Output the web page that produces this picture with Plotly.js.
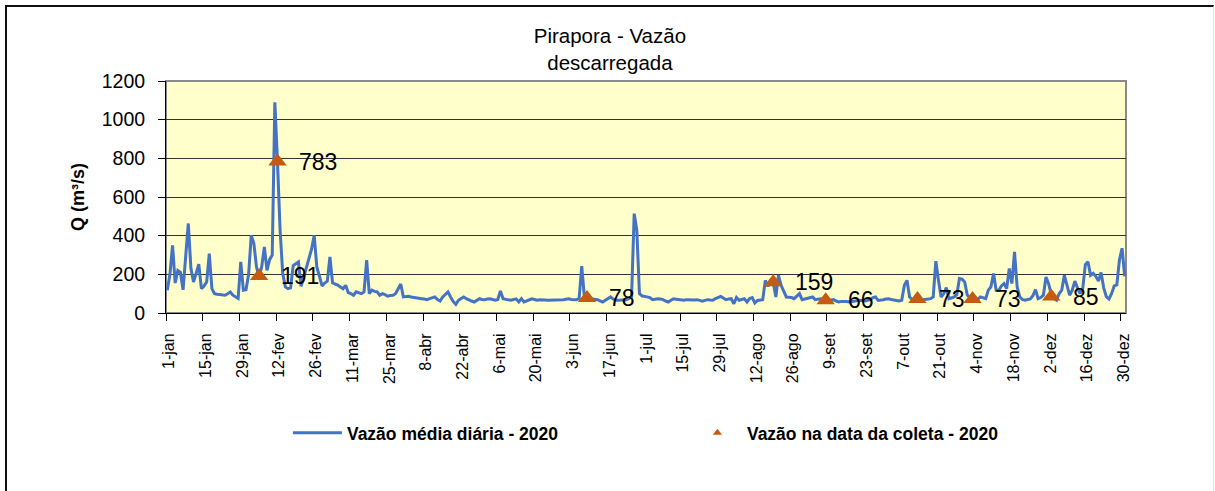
<!DOCTYPE html>
<html>
<head>
<meta charset="utf-8">
<script src="https://cdn.plot.ly/plotly-3.0.1.min.js"></script>
<style>
  html, body { margin: 0; padding: 0; background: #ffffff; }
  #chart { width: 1215px; height: 491px; }
  #frame { position: absolute; left: 5px; top: 5px; width: 1209px; height: 520px;
           box-sizing: border-box; border-left: 2px solid #111; border-top: 2px solid #111;
           border-right: 1px solid #e2e2e2; pointer-events: none; }
</style>
</head>
<body>
<div id="chart"></div>
<div id="frame"></div>
<script>
// ---- Data ----
const startDate = '2020-01-01';
// Vazão média diária - 2020 (m³/s), one value per day from 1-jan to 31-dez
const dailyFlow = [
  118, 200, 350, 155, 220, 210, 120, 290, 463, 230,
  160, 205, 252, 126, 140, 160, 307, 126, 100, 97,
  95, 95, 92, 100, 109, 92, 85, 75, 264, 118,
  120, 200, 402, 359, 238, 185, 240, 342, 221, 276,
  300, 1090, 783, 428, 204, 135, 126, 130, 245, 256,
  264, 138, 187, 240, 290, 330, 402, 238, 190, 140,
  155, 165, 290, 156, 150, 145, 135, 126, 143, 105,
  100, 92, 110, 105, 100, 109, 273, 100, 118, 112,
  109, 92, 100, 95, 87, 90, 92, 100, 126, 150,
  83, 86, 86, 83, 80, 78, 76, 74, 72, 69,
  74, 78, 83, 70, 62, 83, 95, 109, 83, 60,
  45, 66, 75, 83, 74, 66, 62, 57, 66, 74,
  70, 69, 72, 74, 70, 66, 70, 114, 74, 69,
  68, 66, 70, 73, 57, 74, 57, 62, 66, 73,
  70, 66, 68, 69, 67, 66, 66, 66, 67, 66,
  68, 69, 71, 73, 70, 69, 69, 75, 242, 83,
  78, 75, 73, 71, 69, 63, 57, 66, 75, 83,
  72, 66, 66, 66, 67, 69, 75, 83, 514, 428,
  100, 88, 86, 83, 80, 69, 72, 74, 72, 69,
  62, 57, 66, 73, 71, 69, 67, 66, 69, 68,
  66, 67, 69, 66, 61, 65, 69, 67, 66, 75,
  80, 86, 78, 69, 72, 74, 48, 80, 66, 70,
  74, 57, 75, 80, 52, 65, 69, 69, 169, 138,
  169, 159, 83, 195, 143, 110, 83, 82, 80, 74,
  85, 100, 69, 72, 74, 80, 83, 69, 72, 74,
  70, 66, 66, 67, 69, 62, 57, 60, 61, 59,
  57, 59, 61, 64, 66, 64, 62, 66, 69, 80,
  83, 65, 66, 69, 72, 74, 70, 66, 62, 62,
  66, 143, 169, 83, 69, 70, 73, 66, 68, 69,
  72, 74, 83, 268, 169, 83, 100, 131, 74, 78,
  83, 95, 178, 175, 161, 92, 80, 73, 66, 72,
  83, 78, 74, 118, 135, 204, 118, 118, 140, 152,
  126, 230, 152, 316, 135, 83, 70, 66, 69, 73,
  90, 121, 74, 80, 92, 186, 152, 95, 75, 66,
  100, 118, 195, 140, 92, 118, 165, 130, 100, 126,
  250, 265, 195, 205, 190, 165, 210, 130, 85, 72,
  100, 140, 145, 275, 335, 190
];
// Vazão na data da coleta - 2020
const collectDates = ['2020-02-05', '2020-02-12', '2020-06-09', '2020-08-19',
                      '2020-09-08', '2020-10-13', '2020-11-03', '2020-12-03'];
const collectValues = [191, 783, 78, 159, 66, 73, 73, 85];
// Axis ticks
const tickDates = ['2020-01-01','2020-01-15','2020-01-29','2020-02-12','2020-02-26','2020-03-11',
  '2020-03-25','2020-04-08','2020-04-22','2020-05-06','2020-05-20','2020-06-03','2020-06-17',
  '2020-07-01','2020-07-15','2020-07-29','2020-08-12','2020-08-26','2020-09-09','2020-09-23',
  '2020-10-07','2020-10-21','2020-11-04','2020-11-18','2020-12-02','2020-12-16','2020-12-30'];
const tickLabels = ['1-jan','15-jan','29-jan','12-fev','26-fev','11-mar','25-mar','8-abr','22-abr',
  '6-mai','20-mai','3-jun','17-jun','1-jul','15-jul','29-jul','12-ago','26-ago','9-set','23-set',
  '7-out','21-out','4-nov','18-nov','2-dez','16-dez','30-dez'];
const yTicks = [0, 200, 400, 600, 800, 1000, 1200];

// ---- Build ----
const FONT = 'Arial, "Liberation Sans", sans-serif';
const base = new Date(startDate + 'T00:00:00Z');
const dailyDates = dailyFlow.map((_, i) => {
  const d = new Date(base.getTime() + i * 86400000);
  return d.toISOString().slice(0, 10) + ' 12:00';
});
const collectX = collectDates.map(d => d + ' 12:00');

const traces = [
  {
    type: 'scatter', mode: 'lines', name: 'Vazão média diária - 2020',
    x: dailyDates, y: dailyFlow,
    line: { color: '#4472C4', width: 3 },
    hoverinfo: 'skip'
  },
  {
    type: 'scatter', mode: 'markers', name: 'Vazão na data da coleta - 2020',
    x: collectX, y: collectValues, showlegend: false,
    marker: { symbol: 'triangle-up', size: 16, color: '#C55A11' },
    hoverinfo: 'skip'
  },
  {
    type: 'scatter', mode: 'markers', name: 'Vazão na data da coleta - 2020',
    x: [null], y: [null],
    marker: { symbol: 'triangle-up', size: 8, color: '#C55A11' }
  }
];

const annotations = collectX.map((x, i) => ({
  x: x, y: collectValues[i], xref: 'x', yref: 'y',
  text: String(collectValues[i]), showarrow: false,
  xanchor: 'left', yanchor: 'middle', xshift: 20,
  font: { family: FONT, size: 23, color: '#000' }
}));

const layout = {
  width: 1215, height: 491,
  margin: { l: 166, r: 89, t: 81, b: 178 },
  paper_bgcolor: '#ffffff',
  plot_bgcolor: '#FFFFCC',
  font: { family: FONT, color: '#000' },
  title: {
    text: 'Pirapora - Vazão<br>descarregada',
    font: { family: FONT, size: 20.5, color: '#000' },
    x: 0.502, xanchor: 'center', xref: 'container',
    y: 1 - 43 / 491, yanchor: 'top', yref: 'container'
  },
  xaxis: {
    type: 'date',
    range: ['2020-01-01', '2021-01-01'],
    tickmode: 'array', tickvals: tickDates, ticktext: tickLabels,
    tickangle: -90, tickfont: { family: FONT, size: 16, color: '#000' },
    ticks: 'outside', ticklen: 7, tickcolor: '#000', tickwidth: 1,
    ticklabelshift: 3, ticklabelstandoff: 6,
    showline: true, linecolor: '#000', linewidth: 1,
    showgrid: false, zeroline: false, fixedrange: true
  },
  yaxis: {
    range: [0, 1200], tickmode: 'array', tickvals: yTicks,
    tickfont: { family: FONT, size: 19.5, color: '#000' },
    ticks: 'outside', ticklen: 7, tickcolor: '#000', tickwidth: 1,
    ticklabelstandoff: 9,
    showline: true, linecolor: '#000', linewidth: 1,
    showgrid: true, gridcolor: '#333333', gridwidth: 1,
    zeroline: false, fixedrange: true,
    title: { text: 'Q (m³/s)', font: { family: FONT, size: 18, color: '#000', weight: 700 }, standoff: 12 }
  },
  showlegend: true,
  legend: {
    orientation: 'h', x: 0.127, xanchor: 'left', y: -0.517, yanchor: 'middle',
    xref: 'paper', yref: 'paper',
    font: { family: FONT, size: 17.5, color: '#000', weight: 700 },
    itemwidth: 49, entrywidth: 336, entrywidthmode: 'pixels',
    bgcolor: 'rgba(0,0,0,0)', borderwidth: 0, traceorder: 'normal'
  },
  shapes: [{
    type: 'rect', xref: 'paper', yref: 'paper', x0: 0, x1: 1, y0: 0, y1: 1,
    line: { color: '#8a8a8a', width: 2 }, layer: 'below'
  }],
  annotations: annotations
};

Plotly.newPlot('chart', traces, layout, { displayModeBar: false, staticPlot: true });
</script>
</body>
</html>
